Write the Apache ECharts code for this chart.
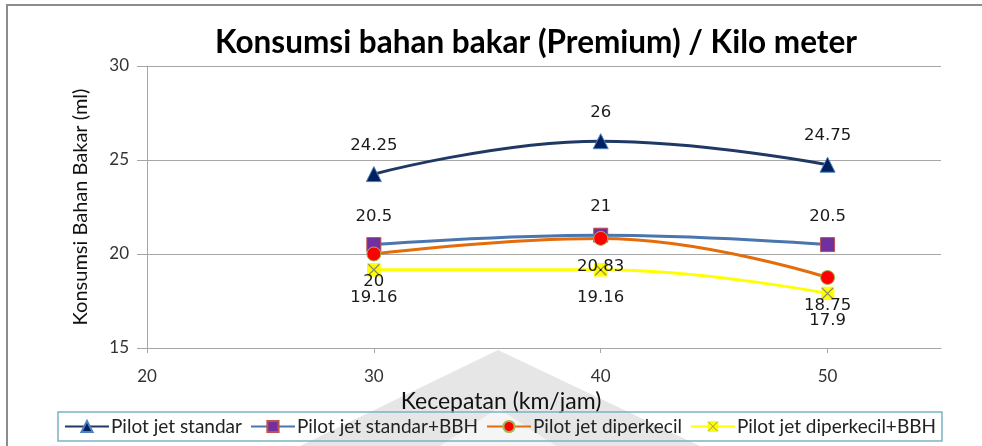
<!DOCTYPE html>
<html>
<head>
<meta charset="utf-8">
<script src="https://cdn.jsdelivr.net/npm/echarts@6/dist/echarts.min.js"></script>
<style>
  html, body { margin: 0; padding: 0; background: #fff; }
  #chart { width: 982px; height: 446px; }
</style>
</head>
<body>
<div id="chart"></div>
<script>
// Fuel consumption per km at each speed, four jet configurations
const speeds = [30, 40, 50];
const seriesNames = [
  'Pilot jet standar',
  'Pilot jet standar+BBH',
  'Pilot jet diperkecil',
  'Pilot jet diperkecil+BBH'
];
const standar = [24.25, 26, 24.75];
const standarBBH = [20.5, 21, 20.5];
const diperkecil = [20, 20.83, 18.75];
const diperkecilBBH = [19.16, 19.16, 17.9];
const yTicks = { min: 15, max: 30, step: 5 };
const xTicks = { min: 20, max: 55, step: 10 };
const xTickValues = [20, 30, 40, 50];

const chartTitle = 'Konsumsi bahan bakar (Premium) / Kilo meter';
const xName = 'Kecepatan (km/jam)';
const yName = 'Konsumsi Bahan Bakar (ml)';

const uiFont = 'Lato';
const labelFont = 'DejaVu Sans';

// yellow square with a thin cross, used as the marker of the last series
const crossSvg = '<svg xmlns="http://www.w3.org/2000/svg" width="14" height="14">' +
  '<rect x="0" y="0" width="14" height="14" fill="#ffff00"/>' +
  '<path d="M1.5 1.5L12.5 12.5M12.5 1.5L1.5 12.5" stroke="#8c8c6a" stroke-width="1.2"/></svg>';
const crossSymbol = 'image://data:image/svg+xml;utf8,' + encodeURIComponent(crossSvg);

function pairs(values) {
  return speeds.map((s, i) => [s, values[i]]);
}

function makeSeries(name, values, opts) {
  return {
    name: name,
    type: 'line',
    smooth: 0.45,
    data: pairs(values),
    symbol: opts.symbol,
    symbolSize: opts.symbolSize,
    lineStyle: { color: opts.line, width: 3 },
    itemStyle: {
      color: opts.fill,
      borderColor: opts.border,
      borderWidth: 1
    },
    label: {
      show: true,
      position: opts.labelPos,
      distance: opts.labelDist,
      fontFamily: labelFont,
      fontSize: 16.5,
      color: '#1a1a1a',
      formatter: p => String(p.value[1])
    },
    emphasis: { disabled: true },
    z: opts.z
  };
}

const chart = echarts.init(document.getElementById('chart'), null, { renderer: 'canvas' });

chart.setOption({
  animation: false,
  backgroundColor: '#ffffff',
  title: {
    text: chartTitle,
    left: 531,
    textAlign: 'center',
    top: 22,
    textStyle: { fontFamily: uiFont, fontWeight: 'bold', fontSize: 31.5, color: '#000' }
  },
  graphic: [
    {
      // outer chart frame
      type: 'rect',
      z: -10,
      shape: { x: 7, y: 5, width: 1100, height: 600 },
      style: { fill: 'none', stroke: '#8c8c8c', lineWidth: 2 }
    },
    {
      // faint logo shape behind the axis title
      type: 'polygon',
      z: -5,
      shape: { points: [[498, 350], [300, 446], [700, 446]] },
      style: { fill: '#e6e6e6' }
    },
    {
      type: 'polygon',
      z: -4,
      shape: { points: [[498, 408], [440, 446], [556, 446]] },
      style: { fill: '#f5f5f5' }
    }
  ],
  legend: {
    left: 58,
    top: 412,
    width: 888,
    padding: [5, 6, 5, 6],
    borderColor: '#79b3c2',
    borderWidth: 1.5,
    itemWidth: 44,
    itemHeight: 14,
    itemGap: 8,
    textStyle: { fontFamily: uiFont, fontSize: 19, color: '#222', padding: [0, 0, 0, -3] },
    data: seriesNames
  },
  grid: { left: 147, right: 41, top: 66, bottom: 98 },
  xAxis: {
    type: 'value',
    min: xTicks.min,
    max: xTicks.max,
    interval: xTicks.step,
    name: xName,
    nameLocation: 'middle',
    nameGap: 33,
    nameTextStyle: { fontFamily: uiFont, fontSize: 23, color: '#111', padding: [0, 86, 0, 0] },
    axisLine: { show: true, lineStyle: { color: '#a6a6a6', width: 1 } },
    axisTick: { show: true, length: 5, customValues: xTickValues, lineStyle: { color: '#a6a6a6' } },
    axisLabel: {
      fontFamily: uiFont, fontSize: 17, color: '#333', margin: 20,
      customValues: xTickValues
    },
    splitLine: { show: false }
  },
  yAxis: {
    type: 'value',
    min: yTicks.min,
    max: yTicks.max,
    interval: yTicks.step,
    name: yName,
    nameLocation: 'middle',
    nameGap: 56,
    nameTextStyle: { fontFamily: uiFont, fontSize: 20, color: '#111' },
    axisLine: { show: true, lineStyle: { color: '#a6a6a6', width: 1 } },
    axisTick: { show: true, length: 10, lineStyle: { color: '#a6a6a6' } },
    axisLabel: { fontFamily: uiFont, fontSize: 17, color: '#333', margin: 18 },
    splitLine: { show: true, lineStyle: { color: '#a6a6a6', width: 1 } }
  },
  series: [
    makeSeries(seriesNames[0], standar, {
      symbol: 'triangle', symbolSize: 15, line: '#1f3864', fill: '#002060', border: '#4f81bd',
      labelPos: 'top', labelDist: 12, z: 4
    }),
    makeSeries(seriesNames[1], standarBBH, {
      symbol: 'rect', symbolSize: 14, line: '#4a76ad', fill: '#7030a0', border: '#c0504d',
      labelPos: 'top', labelDist: 12, z: 3
    }),
    makeSeries(seriesNames[2], diperkecil, {
      symbol: 'circle', symbolSize: 14, line: '#e46c0a', fill: '#ff0000', border: '#9bbb59',
      labelPos: 'bottom', labelDist: 12, z: 5
    }),
    makeSeries(seriesNames[3], diperkecilBBH, {
      symbol: crossSymbol, symbolSize: 14, line: '#ffff00', fill: '#ffff00', border: '#8c8c6a',
      labelPos: 'bottom', labelDist: 12, z: 2
    })
  ]
});
</script>
</body>
</html>
